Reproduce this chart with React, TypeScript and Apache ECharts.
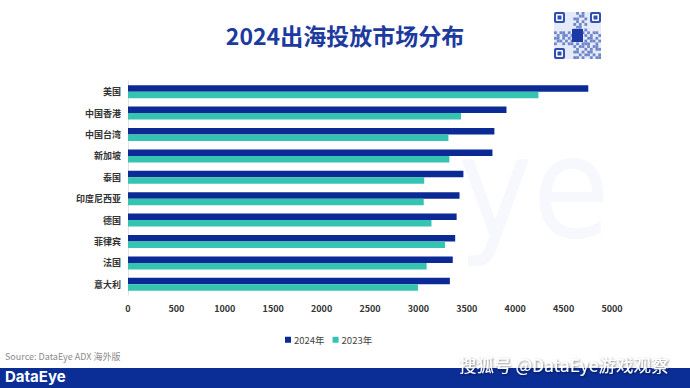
import React, { useEffect, useRef } from "react";
import * as echarts from "echarts";

const categories = ["美国", "中国香港", "中国台湾", "新加坡", "泰国", "印度尼西亚", "德国", "菲律宾", "法国", "意大利"];
const values2024 = [4755, 3910, 3785, 3765, 3465, 3425, 3395, 3380, 3355, 3325];
const values2023 = [4240, 3440, 3310, 3320, 3060, 3055, 3135, 3275, 3085, 2995];
const seriesNames = ["2024年", "2023年"];
const xTicks = { min: 0, max: 5000, interval: 500 };

const FONT = "'Noto Sans CJK SC', 'Noto Sans', sans-serif";
const C2024 = "#0b2a95";
const C2023 = "#34c4b1";

// decorative QR-like pattern (17x17 cells)
const qrRows = [
  "00000000101000000",
  "00000000011000000",
  "00000001100100000",
  "00000000101000000",
  "00000001010100000",
  "00000000110000000",
  "00000001010100000",
  "10110101101010110",
  "01011010000101001",
  "11010100000011010",
  "01101010000101101",
  "10010110101110010",
  "00000001011010110",
  "00000000100101011",
  "00000001101011000",
  "00000000010110101",
  "00000001101001011",
];

export default function App() {
  const ref = useRef<HTMLDivElement>(null);
  useEffect(() => {
    if (!ref.current) return;
    const chart = echarts.init(ref.current, null, { renderer: "svg" });
    const qrX = 554, qrY = 12, qrS = 47;
    const cell = qrS / 17;
    const qrCells: any[] = [];
    qrRows.forEach((row, r) => {
      row.split("").forEach((ch, c) => {
        if (ch === "1") {
          qrCells.push({
            type: "rect",
            shape: { x: qrX + c * cell, y: qrY + r * cell, width: cell, height: cell },
            style: { fill: "#6f86c8" },
            z: 3,
          });
        }
      });
    });
    const finder = (x: number, y: number) => [
      { type: "rect", shape: { x, y, width: 11, height: 11, r: 2 }, style: { fill: "#2f4fb0" }, z: 3 },
      { type: "rect", shape: { x: x + 2, y: y + 2, width: 7, height: 7, r: 1 }, style: { fill: "#fff" }, z: 3 },
      { type: "rect", shape: { x: x + 3.5, y: y + 3.5, width: 4, height: 4 }, style: { fill: "#2f4fb0" }, z: 3 },
    ];
    chart.setOption({
      animation: false,
      backgroundColor: "#ffffff",
      textStyle: { fontFamily: FONT },
      title: {
        text: "2024出海投放市场分布",
        left: 340,
        top: 18,
        textAlign: "center",
        textStyle: { fontFamily: FONT, fontSize: 23, fontWeight: "bold", color: "#1d3a9e" },
      },
      legend: {
        data: seriesNames,
        left: 280,
        top: 330,
        itemWidth: 6,
        itemHeight: 6,
        itemGap: 8,
        icon: "rect",
        textStyle: { fontFamily: FONT, fontSize: 9.5, color: "#444", padding: [0, 0, 0, -2] },
      },
      grid: { left: 128, right: 78, top: 81, bottom: 93, containLabel: false },
      xAxis: {
        type: "value",
        min: xTicks.min,
        max: xTicks.max,
        interval: xTicks.interval,
        axisLine: { show: false },
        axisTick: { show: false },
        splitLine: { show: false },
        axisLabel: {
          fontFamily: FONT,
          fontSize: 9,
          fontWeight: "bold",
          color: "#333",
          margin: 9,
          formatter: (v: number) => String(v),
        },
      },
      yAxis: {
        type: "category",
        data: categories,
        inverse: true,
        axisLine: { show: true, lineStyle: { color: "#e2e2e2", width: 1 } },
        axisTick: { show: false },
        axisLabel: { fontFamily: FONT, fontSize: 9, fontWeight: "bold", color: "#333", margin: 7 },
      },
      series: [
        { name: seriesNames[0], type: "bar", data: values2024, barWidth: 6.5, barGap: "0%", itemStyle: { color: C2024 }, z: 5 },
        { name: seriesNames[1], type: "bar", data: values2023, barWidth: 6.5, barGap: "0%", itemStyle: { color: C2023 }, z: 5 },
      ],
      graphic: [
        {
          type: "text",
          left: 458,
          top: 118,
          z: -10,
          style: { text: "ye", fontFamily: "'DejaVu Sans Condensed', sans-serif", fontSize: 140, fill: "#f6f8fd" },
        },
        { type: "rect", shape: { x: qrX, y: qrY, width: qrS, height: qrS }, style: { fill: "#e4eaf7" }, z: 2 },
        ...qrCells,
        ...finder(qrX, qrY),
        ...finder(qrX + qrS - 11, qrY),
        ...finder(qrX, qrY + qrS - 11),
        { type: "rect", shape: { x: qrX + 18, y: qrY + 17, width: 11, height: 13 }, style: { fill: "#1b3aa8" }, z: 4 },
        {
          type: "text",
          left: 5,
          top: 352,
          style: { text: "Source: DataEye ADX 海外版", fontFamily: FONT, fontSize: 9, fill: "#8a8a8a" },
        },
        { type: "rect", shape: { x: 0, y: 368, width: 690, height: 20 }, style: { fill: "#0b2d96" }, z: 1 },
        {
          type: "text",
          left: 5,
          top: 369,
          z: 2,
          style: { text: "DataEye", fontFamily: "Inter, 'Noto Sans', sans-serif", fontSize: 15, fontWeight: "bold", fill: "#ffffff" },
        },
        {
          type: "text",
          left: 459,
          top: 356,
          z: 5,
          style: {
            text: "搜狐号 @DataEye游戏观察",
            fontFamily: FONT,
            fontSize: 17.5,
            fill: "#ffffff",
            textShadowColor: "rgba(0,0,0,0.55)",
            textShadowBlur: 2,
            textShadowOffsetX: 1,
            textShadowOffsetY: 1,
          },
        },
      ],
    });
    return () => chart.dispose();
  }, []);
  return <div ref={ref} style={{ width: 690, height: 388, position: "absolute", left: 0, top: 0 }} />;
}
